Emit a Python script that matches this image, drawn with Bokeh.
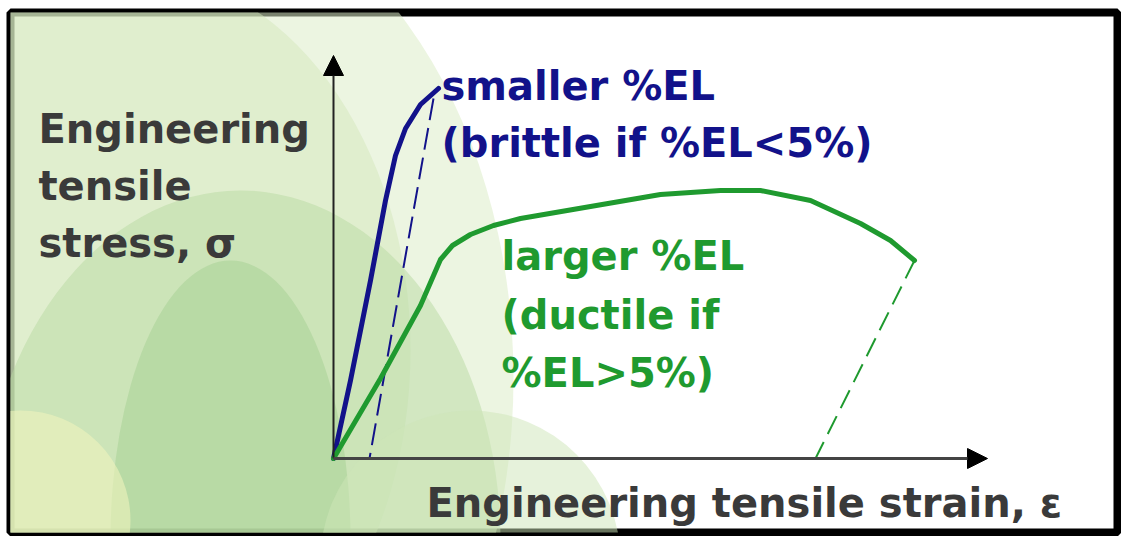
from bokeh.plotting import figure
from bokeh.models import Range1d, Label, Arrow, NormalHead
from bokeh.embed import file_html
from bokeh.resources import INLINE

# ---- data (strain, stress in arbitrary units) ----
brittle_strain = [0.0, 1.7, 3.7, 5.2, 6.2, 7.2, 8.7, 10.5]
brittle_stress = [0.0, 7.8, 17.8, 25.8, 30.3, 33.0, 35.4, 37.0]
brittle_unload_strain = [10.0, 3.6]
brittle_unload_stress = [36.0, 0.0]

ductile_strain = [0.0, 4.7, 8.7, 10.7, 11.9, 13.7, 16.0, 18.7, 25.7, 32.7, 38.7, 42.7, 47.7, 52.7, 55.7, 58.1]
ductile_stress = [0.0, 8.0, 15.3, 19.9, 21.3, 22.4, 23.3, 24.0, 25.2, 26.4, 26.8, 26.8, 25.8, 23.5, 21.8, 19.8]
ductile_unload_strain = [58.1, 48.2]
ductile_unload_stress = [19.8, 0.0]

x_axis_end = 65.4
y_axis_end = 40.3

y_label_lines = ["Engineering", "tensile", "stress, \u03c3"]
x_label = "Engineering tensile strain, \u03b5"
brittle_lines = ["smaller %EL", "(brittle if %EL<5%)"]
ductile_lines = ["larger %EL", "(ductile if", "%EL>5%)"]

BLUE = "#12128a"
GREEN = "#1f9a2f"
GRAY = "#3a3a3a"
FONT = "DejaVu Sans"
FS = "40px"

p = figure(width=1121, height=536, output_backend="svg", toolbar_location=None,
           x_range=Range1d(-32.3, 78.4), y_range=Range1d(-7.4, 44.6),
           x_axis_type=None, y_axis_type=None,
           border_fill_color="white", background_fill_color="white",
           outline_line_color="black", outline_line_width=8)
p.min_border_left = 10
p.min_border_right = 4
p.min_border_top = 12
p.min_border_bottom = 4
p.xgrid.visible = False
p.ygrid.visible = False

# decorative green background
bg = [
    (-18.0, 8.0, 72, 100, "#dcedc8", 0.55),
    (-20.3, 10.8, 56, 76, "#d3e8bc", 0.5),
    (-9.3, -8.2, 52, 70, "#b7d9a2", 0.5),
    (-10.3, -8.2, 24, 56, "#9ccb8a", 0.4),
    (-31.3, -6.2, 22, 22, "#eef3bd", 0.6),
    (13.7, -10.2, 30, 30, "#cde5b8", 0.5),
]
for cx, cy, w, h, c, a in bg:
    p.ellipse(x=[cx], y=[cy], width=w, height=h, fill_color=c, fill_alpha=a, line_color=None)

# axes with arrows
p.add_layout(Arrow(end=NormalHead(size=20, fill_color="black", line_color="black"),
                   x_start=0, y_start=0, x_end=0, y_end=y_axis_end,
                   line_color="#222222", line_width=2))
p.add_layout(Arrow(end=NormalHead(size=20, fill_color="black", line_color="black"),
                   x_start=0, y_start=0, x_end=x_axis_end, y_end=0,
                   line_color="#444444", line_width=3))

# curves
p.line(brittle_unload_strain, brittle_unload_stress, line_color=BLUE, line_width=2, line_dash="22 8")
p.line(ductile_unload_strain, ductile_unload_stress, line_color=GREEN, line_width=2, line_dash="20 9")
p.line(brittle_strain, brittle_stress, line_color=BLUE, line_width=5, line_join="round", line_cap="round")
p.line(ductile_strain, ductile_stress, line_color=GREEN, line_width=5, line_join="round", line_cap="round")

def add_lines(lines, x, ys, color):
    for t, y in zip(lines, ys):
        p.add_layout(Label(x=x, y=y, text=t, text_font=FONT, text_font_size=FS,
                           text_font_style="bold", text_color=color,
                           text_baseline="alphabetic", text_align="left"))

add_lines(y_label_lines, -29.5, [33.0, 27.3, 21.6], GRAY)
add_lines([x_label], 9.3, [-4.4], GRAY)
add_lines(brittle_lines, 10.8, [37.3, 31.6], BLUE)
add_lines(ductile_lines, 16.8, [20.3, 14.4, 8.6], GREEN)

open("out.html", "w").write(file_html(p, INLINE))
